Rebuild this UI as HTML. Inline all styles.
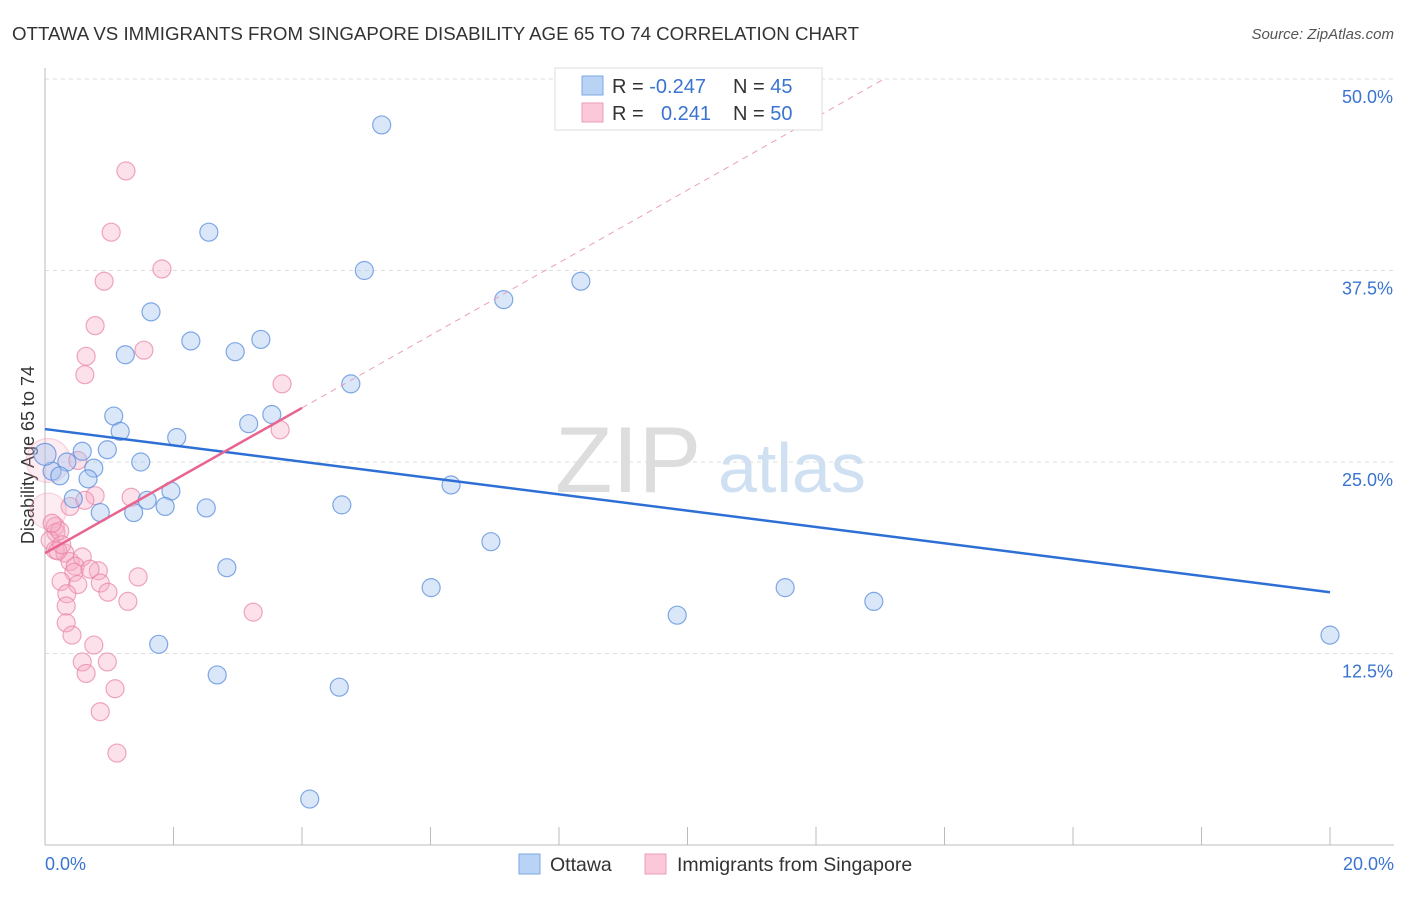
<!DOCTYPE html>
<html><head><meta charset="utf-8"><style>
body{margin:0;background:#fff;font-family:"Liberation Sans",sans-serif}
svg text{font-family:"Liberation Sans",sans-serif}
</style></head><body>
<svg id="c" width="1406" height="892">
<text x="12" y="40" font-size="18.7" fill="#333">OTTAWA VS IMMIGRANTS FROM SINGAPORE DISABILITY AGE 65 TO 74 CORRELATION CHART</text>
<text x="1394" y="39" font-size="15" fill="#555" font-style="italic" text-anchor="end">Source: ZipAtlas.com</text>
<text x="34" y="455" font-size="18" fill="#333" text-anchor="middle" transform="rotate(-90 34 455)">Disability Age 65 to 74</text>
<g><text x="555" y="492" font-size="94" fill="#ddd" font-family="Liberation Serif">ZIP</text><text x="718" y="492" font-size="70" fill="#cfe0f3">atlas</text></g>
<g id="grid"></g><g id="marks"></g>
<g>
<rect x="555" y="68" width="267" height="62" fill="#fff" stroke="#ddd"/>
<rect x="582" y="76" width="21" height="19" fill="#b9d3f5" stroke="#7aa7e6"/>
<rect x="582" y="103" width="21" height="19" fill="#fac8d8" stroke="#ee9bb6"/>
<text x="612" y="93" font-size="20" fill="#333">R = <tspan fill="#3a74d0">-0.247</tspan></text>
<text x="733" y="93" font-size="20" fill="#333">N = <tspan fill="#3a74d0">45</tspan></text>
<text x="612" y="120" font-size="20" fill="#333">R = <tspan fill="#3a74d0" x="661">0.241</tspan></text>
<text x="733" y="120" font-size="20" fill="#333">N = <tspan fill="#3a74d0">50</tspan></text>
</g>
<g>
<rect x="519" y="854" width="21" height="20" fill="#b9d3f5" stroke="#7aa7e6"/>
<text x="550" y="871" font-size="19.5" fill="#333">Ottawa</text>
<rect x="645" y="854" width="21" height="20" fill="#fac8d8" stroke="#ee9bb6"/>
<text x="677" y="871" font-size="19.5" fill="#333">Immigrants from Singapore</text>
</g>
</svg>
<script>
const yTicks=[12.5,25,37.5,50];
const yTickLabels=["12.5%","25.0%","37.5%","50.0%"];
const xTickLabels=["0.0%","20.0%"];
const ottawaX=[5.24,2.55,4.97,7.14,8.34,1.65,2.27,1.25,2.96,3.36,4.76,1.07,1.17,3.17,3.53,2.05,0.58,0.97,1.49,0.34,0.76,0.11,0.23,0.67,6.32,0.44,1.59,1.96,1.87,0.86,1.38,2.51,4.62,6.94,2.83,6.01,11.52,12.90,9.84,1.77,2.68,4.58,4.12,20.0,0.0];
const ottawaY=[47.0,40.0,37.5,35.6,36.8,34.8,32.9,32.0,32.2,33.0,30.1,28.0,27.0,27.5,28.1,26.6,25.7,25.8,25.0,25.0,24.6,24.4,24.1,23.9,23.5,22.6,22.5,23.1,22.1,21.7,21.7,22.0,22.2,19.8,18.1,16.8,16.8,15.9,15.0,13.1,11.1,10.3,3.0,13.7,25.5];
const singX=[1.26,1.03,1.82,0.92,0.78,0.64,1.54,0.62,3.69,3.66,0.51,0.78,1.34,0.39,0.05,0.16,0.17,0.08,0.16,0.31,0.39,0.58,0.2,0.47,0.45,0.83,0.25,0.51,0.86,1.45,0.98,0.34,0.33,1.29,3.24,0.33,0.42,0.76,0.58,0.97,0.64,1.09,0.86,1.12,0.05,0.23,0.26,0.62,0.70,0.11];
const singY=[44.0,40.0,37.6,36.8,33.9,31.9,32.3,30.7,30.1,27.1,25.1,22.8,22.7,22.1,21.8,20.8,20.4,19.9,19.25,19.05,18.5,18.8,19.2,18.2,17.8,17.9,17.2,17.0,17.1,17.5,16.5,16.4,15.6,15.9,15.2,14.5,13.7,13.05,11.95,11.95,11.2,10.2,8.7,6.0,25.1,20.5,19.6,22.5,18.0,21.0];
const singR=[9,9,9,9,9,9,9,9,9,9,9,9,9,9,18,9,9,9,9,9,9,9,9,9,9,9,9,9,9,9,9,9,9,9,9,9,9,9,9,9,9,9,9,9,22,9,9,9,9,9];
const ottawaTrend=[27.15,16.5];
const singTrend=[19.05,21.4];
const X0=45,X1=1330,YB=845,YT=79;
const xs=v=>X0+v/20*(X1-X0), ys=v=>YB-v/50*(YB-YT);
const NS="http://www.w3.org/2000/svg";
const grid=document.getElementById('grid'),marks=document.getElementById('marks');
function mk(p,tag,a){const e=document.createElementNS(NS,tag);for(const k in a)e.setAttribute(k,a[k]);p.appendChild(e);return e;}
yTicks.forEach((t,i)=>{
const g=mk(grid,'line',{x1:X0,x2:1394,y1:ys(t),y2:ys(t),stroke:'#ddd','stroke-dasharray':'4,4'});


const l=mk(grid,'text',{x:1393,y:ys(t)+24,'font-size':18,fill:'#3a74d0','text-anchor':'end'});l.textContent=yTickLabels[i];


});
const ax=mk(grid,'line',{x1:X0,x2:X0,y1:68,y2:YB,stroke:'#bbb'});


const bx=mk(grid,'line',{x1:X0,x2:1394,y1:YB,y2:YB,stroke:'#bbb'});


for(let i=0;i<=10;i++){const t=mk(grid,'line',{x1:xs(i*2),x2:xs(i*2),y1:827,y2:YB,stroke:'#bbb'});

}
[[0,'start',45],[1,'end',1394]].forEach(([i,a,x])=>{const l=mk(grid,'text',{x:x,y:870,'font-size':18,fill:'#3a74d0','text-anchor':a});l.textContent=xTickLabels[i];

});
singX.forEach((v,i)=>{const big=singR[i]>12;const c=mk(marks,'circle',{cx:xs(v),cy:ys(singY[i]),r:singR[i],fill:big?'rgba(246,170,195,0.22)':'rgba(246,170,195,0.35)',stroke:big?'rgba(232,130,165,0.3)':'rgba(232,130,165,0.7)','stroke-width':1.2});

});
ottawaX.forEach((v,i)=>{const c=mk(marks,'circle',{cx:xs(v),cy:ys(ottawaY[i]),r:i==44?11:9,fill:'rgba(160,195,240,0.4)',stroke:'rgba(90,140,220,0.75)','stroke-width':1.2});

});
const bl=mk(marks,'line',{x1:xs(0),y1:ys(ottawaTrend[0]),x2:xs(20),y2:ys(ottawaTrend[1]),stroke:'#2e6fd6','stroke-width':2.5});


const xe=(50-singTrend[0])/2.37;
const pd=mk(marks,'line',{x1:xs(4),y1:ys(singTrend[0]+2.37*4),x2:xs(xe),y2:ys(singTrend[0]+2.37*xe),stroke:'#e8a0b8','stroke-width':1,'stroke-dasharray':'6,5'});


const pl=mk(marks,'line',{x1:xs(0),y1:ys(singTrend[0]),x2:xs(4),y2:ys(singTrend[0]+2.37*4),stroke:'#e8648e','stroke-width':2.5});


</script>
</body></html>
